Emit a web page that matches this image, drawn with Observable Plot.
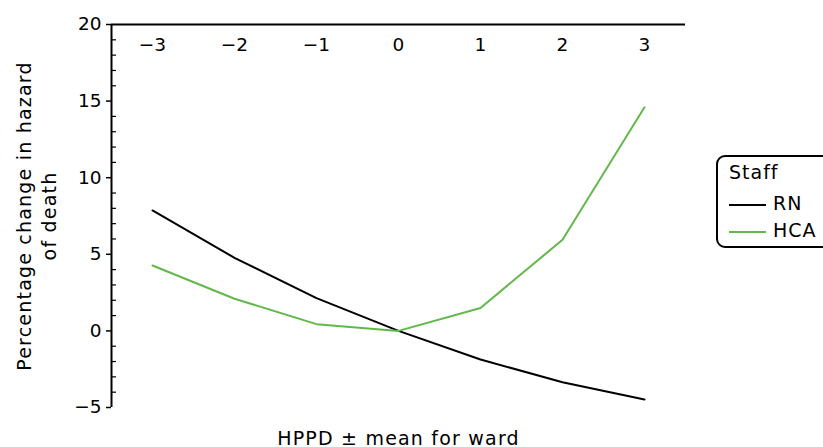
<!DOCTYPE html>
<html>
<head>
<meta charset="utf-8">
<script src="https://cdn.jsdelivr.net/npm/d3@7"></script>
<script src="https://cdn.jsdelivr.net/npm/@observablehq/plot@0.6"></script>
<style>
  html, body { margin: 0; padding: 0; background: #fff; overflow: hidden; }
  #wrap { position: relative; width: 823px; height: 447px; overflow: hidden; font-family: "DejaVu Sans", sans-serif; }
  #legend { position: absolute; left: 716px; top: 155px; width: 130px; height: 89px; border: 2px solid #000; border-radius: 9px; box-sizing: content-box; font-size: 19px; letter-spacing: 1px; color: #000; }
  #legend .title { position: absolute; left: 11px; top: 4px; }
  #legend .row { position: absolute; left: 11px; height: 24px; line-height: 24px; white-space: nowrap; }
  #legend .sw { display: inline-block; width: 37px; height: 0; border-top: 2px solid; vertical-align: middle; margin-right: 7px; }
</style>
</head>
<body>
<div id="wrap"><div id="chart"></div><div id="legend"></div></div>
<script>
const hppd = [-3, -2, -1, 0, 1, 2, 3];
const rn = [7.86, 4.77, 2.14, 0, -1.87, -3.35, -4.48];
const hca = [4.27, 2.1, 0.44, 0, 1.5, 5.95, 14.6];
const seriesNames = ["RN", "HCA"];
const seriesColors = ["#000000", "#62b84a"];
const yMajor = [-5, 0, 5, 10, 15, 20];
const yMinor = d3.range(-5, 21).filter(v => v % 5 !== 0);

const data = [
  ...hppd.map((x, i) => ({x, y: rn[i], s: "RN"})),
  ...hppd.map((x, i) => ({x, y: hca[i], s: "HCA"}))
];

const font = "DejaVu Sans, sans-serif";
const fs = 18.5;

const chart = Plot.plot({
  width: 823,
  height: 447,
  marginLeft: 111,
  marginRight: 138,
  marginTop: 24,
  marginBottom: 40,
  style: {fontFamily: font, fontSize: fs + "px", color: "#000", background: "#fff", overflow: "visible"},
  x: {domain: [-3.5, 3.5], axis: null},
  y: {domain: [-5, 20], axis: null},
  color: {domain: seriesNames, range: seriesColors},
  marks: [
    Plot.ruleY([20], {stroke: "#000", strokeWidth: 2}),
    Plot.ruleX([-3.5], {stroke: "#000", strokeWidth: 2}),
    Plot.axisY({ticks: yMajor, tickSize: 5, tickPadding: 5, label: null, fontSize: fs, strokeWidth: 1.5}),
    Plot.axisY({ticks: yMinor, tickSize: -5, tickFormat: () => "", label: null, strokeWidth: 1.2}),
    Plot.text(hppd, {x: d => d, y: 20, dy: 21, text: d => String(d).replace("-", "\u2212"), fontSize: fs, lineAnchor: "middle"}),
    Plot.line(data, {x: "x", y: "y", stroke: "s", z: "s", strokeWidth: 2}),
    Plot.text(["Percentage change in hazard\nof death"], {frameAnchor: "left", textAnchor: "middle", rotate: -90, dx: -76, fontSize: 19, lineHeight: 1.32, lineAnchor: "middle"}),
    Plot.text(["HPPD \u00b1 mean for ward"], {frameAnchor: "bottom", dy: 31, fontSize: 19, lineAnchor: "middle"})
  ]
});
document.getElementById("chart").appendChild(chart);
chart.querySelectorAll("g[aria-label='text']").forEach(g => {
  if (g.textContent.includes("Percentage") || g.textContent.includes("HPPD")) g.style.letterSpacing = "1.2px";
});

const legend = document.getElementById("legend");
const t = document.createElement("div");
t.className = "title"; t.textContent = "Staff";
legend.appendChild(t);
seriesNames.forEach((n, i) => {
  const r = document.createElement("div");
  r.className = "row";
  r.style.top = (34 + i * 27) + "px";
  r.innerHTML = `<span class="sw" style="border-color:${seriesColors[i]}"></span>${n}`;
  legend.appendChild(r);
});
</script>
</body>
</html>
